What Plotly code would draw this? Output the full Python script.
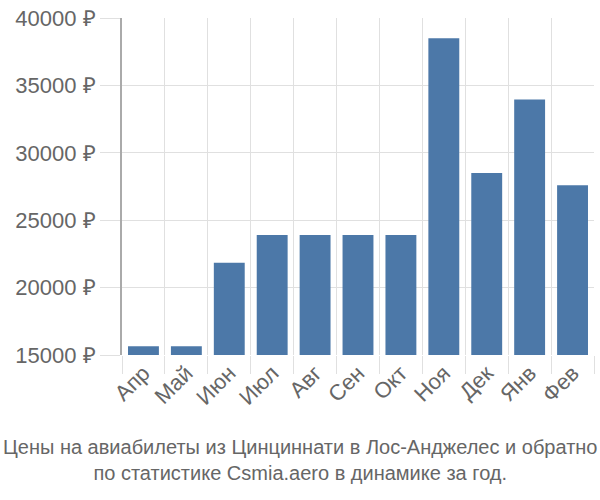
import plotly.graph_objects as go

months = ["Апр", "Май", "Июн", "Июл", "Авг", "Сен", "Окт", "Ноя", "Дек", "Янв", "Фев"]
prices = [15650, 15650, 21850, 23900, 23900, 23900, 23900, 38500, 28500, 33950, 27600]
y_ticks = [15000, 20000, 25000, 30000, 35000, 40000]
title_lines = ["Цены на авиабилеты из Цинциннати в Лос-Анджелес и обратно",
               "по статистике Csmia.aero в динамике за год."]

fig = go.Figure(go.Bar(
    x=months, y=prices,
    marker=dict(color="#4C78A8", line=dict(width=0)),
    width=0.72,
))

fig.update_layout(
    width=600, height=500,
    margin=dict(l=122, r=6, t=15, b=145),
    paper_bgcolor="white", plot_bgcolor="white",
    showlegend=False,
    font=dict(family="Liberation Sans, Arial, sans-serif", color="#666666"),
    annotations=[dict(
        text="<br>".join(title_lines),
        xref="paper", yref="paper",
        x=0.5, xanchor="center",
        y=-0.235, yanchor="top",
        showarrow=False,
        xshift=-(122 - 6) / 2 + 0,
        font=dict(family="Liberation Sans, Arial", size=20, color="#666666"),
    )],
)

fig.update_xaxes(
    type="category",
    tickson="boundaries",
    showgrid=True, gridcolor="#e0e0e0", gridwidth=1,
    ticks="outside", ticklen=18, tickcolor="#e0e0e0", tickwidth=1,
    tickangle=-45,
    tickfont=dict(size=22, color="#666666"),
    showline=False,
    zeroline=False,
)

fig.update_yaxes(
    range=[15000, 40000],
    tickvals=y_ticks,
    ticktext=[f"{v} ₽" for v in y_ticks],
    showgrid=True, gridcolor="#e0e0e0", gridwidth=1,
    ticks="outside", ticklen=20, tickcolor="#e0e0e0", tickwidth=1,
    tickfont=dict(size=22, color="#666666"),
    showline=True, linecolor="#aaaaaa", linewidth=2,
    zeroline=False,
)

fig.write_html("out.html")
